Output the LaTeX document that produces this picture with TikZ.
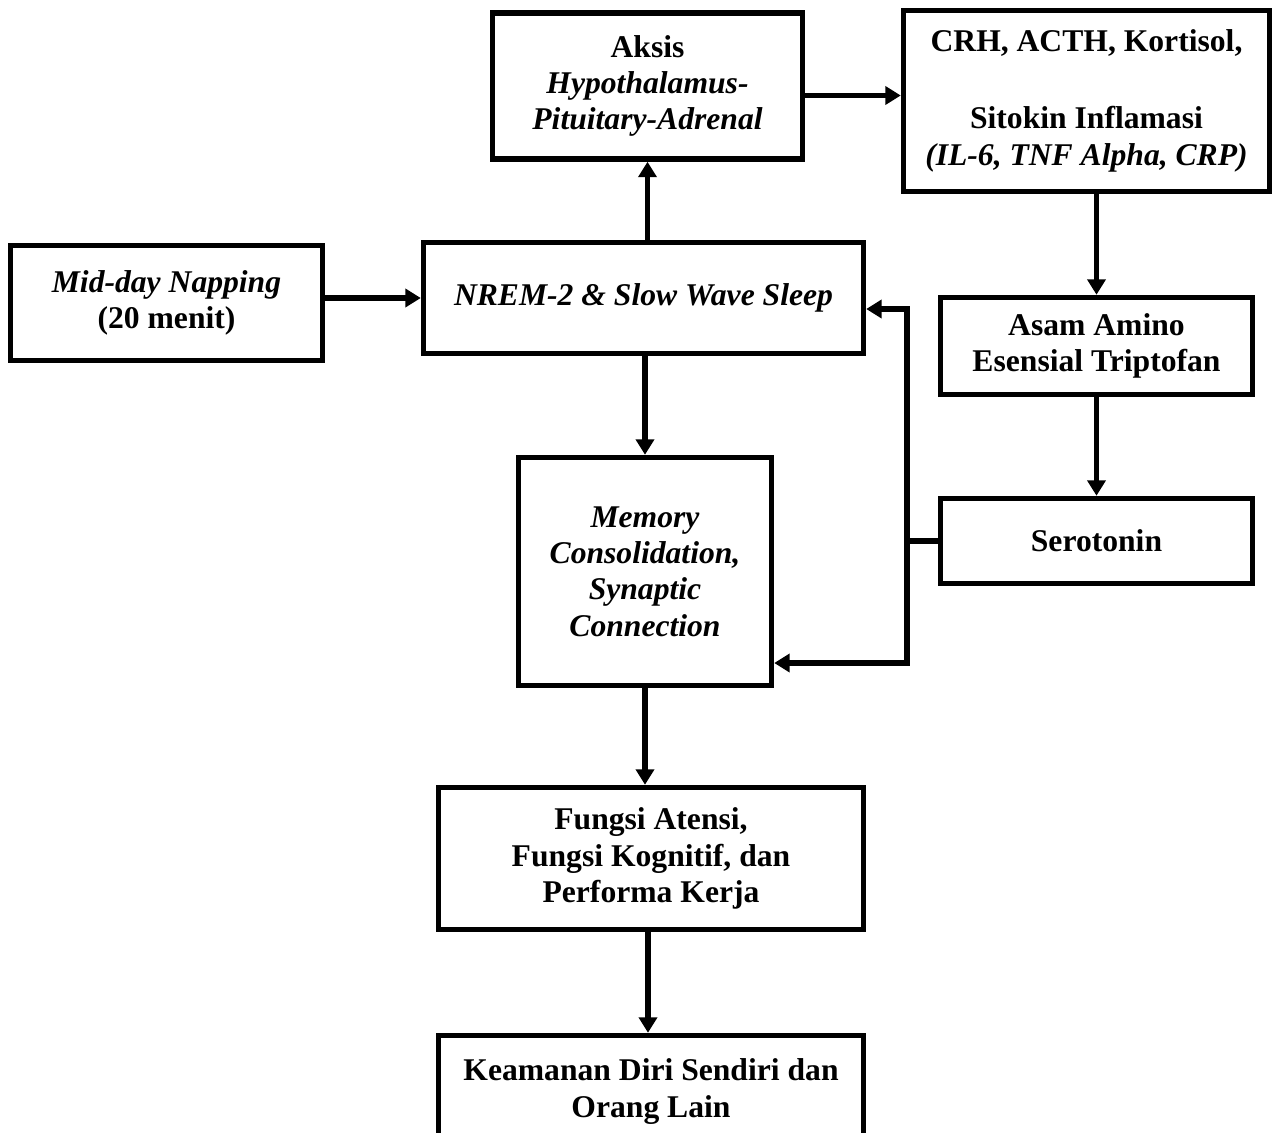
\documentclass[tikz,border=0pt]{standalone}
\usepackage{fontspec}
\setmainfont{Liberation Serif}
\usetikzlibrary{positioning,calc,arrows.meta}
\tikzset{
  blok/.style={draw=black,line width=0.11cm,fill=white,align=center,inner sep=0pt,
    font=\bfseries\fontsize{18}{20.7}\selectfont},
  panah/.style={line width=0.11cm,-{Triangle[length=0.31cm,width=0.36cm]}},
  garis/.style={line width=0.11cm},
}
\begin{document}
\begin{tikzpicture}[x=0.02cm,y=-0.02cm]
  \useasboundingbox (0,0) rectangle (1282,1133);
  \node[blok,minimum width=6.24cm,minimum height=2.30cm] (nap) at (166.5,303)
    {\textit{Mid-day Napping}\\(20 menit)};
  \node[blok,minimum width=8.80cm,minimum height=2.22cm] (nrem) at (643.5,298)
    {\textit{NREM-2 \& Slow Wave Sleep}};
  \node[blok,minimum width=6.20cm,minimum height=2.92cm] (hpa) at (647.5,86)
    {Aksis\\\textit{Hypothalamus-}\\\textit{Pituitary-Adrenal}};
  \node[blok,minimum width=7.32cm,minimum height=3.62cm] (crh) at (1086.5,101)
    {CRH, ACTH, Kortisol,\\[23.2pt]Sitokin Inflamasi\\\textit{(IL-6, TNF Alpha, CRP)}};
  \node[blok,minimum width=6.24cm,minimum height=1.94cm] (asam) at (1096.5,346)
    {Asam Amino\\Esensial Triptofan};
  \node[blok,minimum width=6.24cm,minimum height=1.70cm] (sero) at (1096.5,541)
    {Serotonin};
  \node[blok,minimum width=5.06cm,minimum height=4.56cm] (mem) at (645,571.5)
    {\textit{Memory}\\\textit{Consolidation,}\\\textit{Synaptic}\\\textit{Connection}};
  \node[blok,minimum width=8.50cm,minimum height=2.84cm] (fung) at (651,858.5)
    {Fungsi Atensi,\\Fungsi Kognitif, dan\\Performa Kerja};
  \node[blok,minimum width=8.50cm,minimum height=2.24cm] (keam) at (651,1091.5)
    {Keamanan Diri Sendiri dan\\Orang Lain};

  \coordinate (fb) at (907,541);
  \coordinate (fbatas) at (907,309);
  \coordinate (fbbawah) at (907,663);

  \draw[panah] (nap.east |- nrem.west) -- (nrem.west);
  \draw[panah] (nrem.north -| hpa.south) -- (hpa.south);
  \draw[panah] ([yshift=-0.19cm]hpa.east) -- ([yshift=-0.19cm]hpa.east -| crh.west);
  \draw[panah] (crh.south -| asam.north) -- (asam.north);
  \draw[panah] (asam.south) -- (sero.north);
  \draw[panah] (nrem.south -| mem.north) -- (mem.north);
  \draw[panah] (mem.south) -- (mem.south |- fung.north);
  \draw[panah] (fung.south -| 648,0) -- (keam.north -| 648,0);
  \draw[garis] (sero.west) -- (fb);
  \draw[panah] (fb) -- (fbatas) -- (fbatas -| nrem.east);
  \draw[panah] (fb) -- (fbbawah) -- (fbbawah -| mem.east);
\end{tikzpicture}
\end{document}
